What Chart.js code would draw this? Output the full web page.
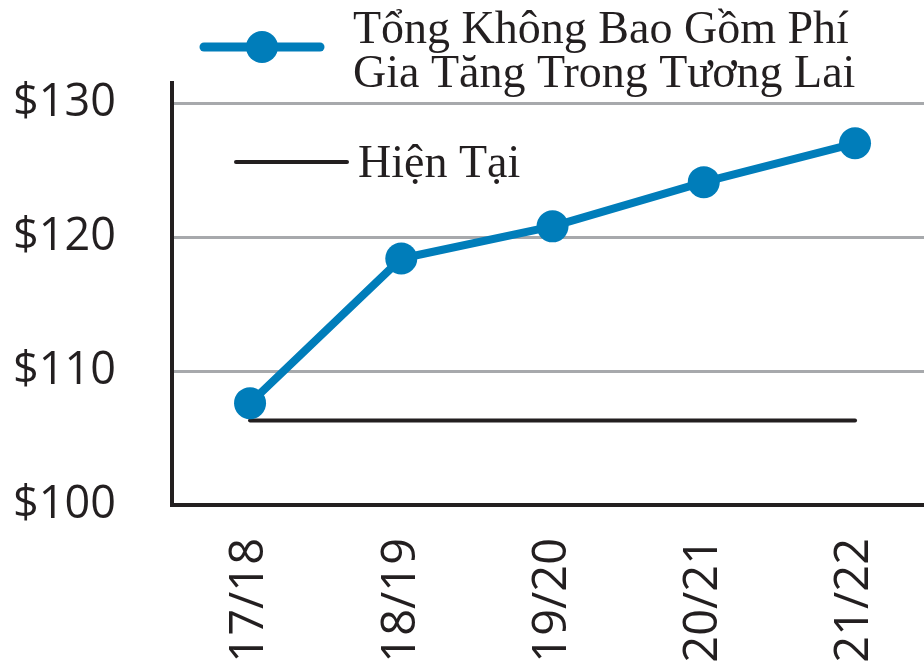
<!DOCTYPE html>
<html>
<head>
<meta charset="utf-8">
<script src="https://cdn.jsdelivr.net/npm/chart.js@4"></script>
<style>
  html, body { margin: 0; padding: 0; background: #fff; }
  #wrap { width: 924px; height: 661px; }
</style>
</head>
<body>
<div id="wrap"><canvas id="feeChart"></canvas></div>
<script>
const years = ['17/18', '18/19', '19/20', '20/21', '21/22'];
const totalFees = [107.6, 118.4, 120.8, 124.1, 127.0];
const currentFees = [106.3, 106.3, 106.3, 106.3, 106.3];
const yTicks = [100, 110, 120, 130];
const totalLabel = ['Tổng Không Bao Gồm Phí', 'Gia Tăng Trong Tương Lai'];
const currentLabel = 'Hiện Tại';

const blue = '#007dba';
const ink = '#231f20';

// x is linear (index of year) so the side margins can be a bit uneven like the original
const toPoints = arr => arr.map((v, i) => ({ x: i, y: v }));

// legend is drawn by hand: two separate boxes, one above the plot and one inside it
const legendPlugin = {
    id: 'customLegend',
    afterDraw(chart) {
        const ctx = chart.ctx;
        ctx.save();
        ctx.lineCap = 'round';

        ctx.strokeStyle = blue;
        ctx.lineWidth = 9;
        ctx.beginPath();
        ctx.moveTo(204, 47);
        ctx.lineTo(320, 47);
        ctx.stroke();
        ctx.fillStyle = blue;
        ctx.beginPath();
        ctx.arc(262, 47, 16, 0, Math.PI * 2);
        ctx.fill();

        ctx.fillStyle = ink;
        ctx.font = '46px "Liberation Serif"';
        ctx.textBaseline = 'alphabetic';
        ctx.fillText(totalLabel[0], 353, 43);
        ctx.fillText(totalLabel[1], 353, 87);

        ctx.strokeStyle = ink;
        ctx.lineWidth = 4;
        ctx.beginPath();
        ctx.moveTo(236, 162);
        ctx.lineTo(347, 162);
        ctx.stroke();
        ctx.fillText(currentLabel, 358, 177);
        ctx.restore();
    }
};

const ctx = document.getElementById('feeChart').getContext('2d');
const feeChart = new Chart(ctx, {
    type: 'line',
    data: {
        datasets: [{
            label: totalLabel.join(' '),
            data: toPoints(totalFees),
            borderColor: blue,
            backgroundColor: blue,
            borderWidth: 8,
            pointRadius: 16,
            pointBackgroundColor: blue,
            pointBorderWidth: 0,
            tension: 0
        }, {
            label: currentLabel,
            data: toPoints(currentFees),
            borderColor: ink,
            borderWidth: 4,
            pointRadius: 0,
            borderCapStyle: 'round'
        }]
    },
    options: {
        responsive: true,
        maintainAspectRatio: false,
        animation: false,
        layout: {
            autoPadding: false,
            padding: { top: 83, right: 0, left: 0, bottom: 0 }
        },
        plugins: {
            legend: { display: false },
            tooltip: { enabled: false }
        },
        scales: {
            x: {
                type: 'linear',
                min: -0.516,
                max: 4.456,
                afterBuildTicks(scale) {
                    scale.ticks = years.map((y, i) => ({ value: i }));
                },
                grid: { display: false, drawTicks: false },
                border: { display: true, color: ink, width: 4 },
                ticks: {
                    autoSkip: false,
                    minRotation: 90,
                    maxRotation: 90,
                    padding: 33,
                    color: ink,
                    font: { family: '"Open Sans"', size: 47 },
                    callback: v => years[v]
                },
                afterFit(scale) {
                    scale.height = 156;
                    scale.paddingLeft = 0;
                    scale.paddingRight = 0;
                }
            },
            y: {
                min: 100,
                max: 131.5,
                afterBuildTicks(scale) {
                    scale.ticks = yTicks.map(v => ({ value: v }));
                },
                grid: { color: '#a7a9ac', lineWidth: 3, drawTicks: false },
                border: { display: true, color: ink, width: 4 },
                ticks: {
                    padding: 56,
                    color: ink,
                    font: { family: '"Open Sans"', size: 45 },
                    callback: v => '$' + v
                },
                afterFit(scale) {
                    scale.width = 172;
                    scale.paddingTop = 0;
                    scale.paddingBottom = 0;
                }
            }
        }
    },
    plugins: [legendPlugin]
});
</script>
</body>
</html>
